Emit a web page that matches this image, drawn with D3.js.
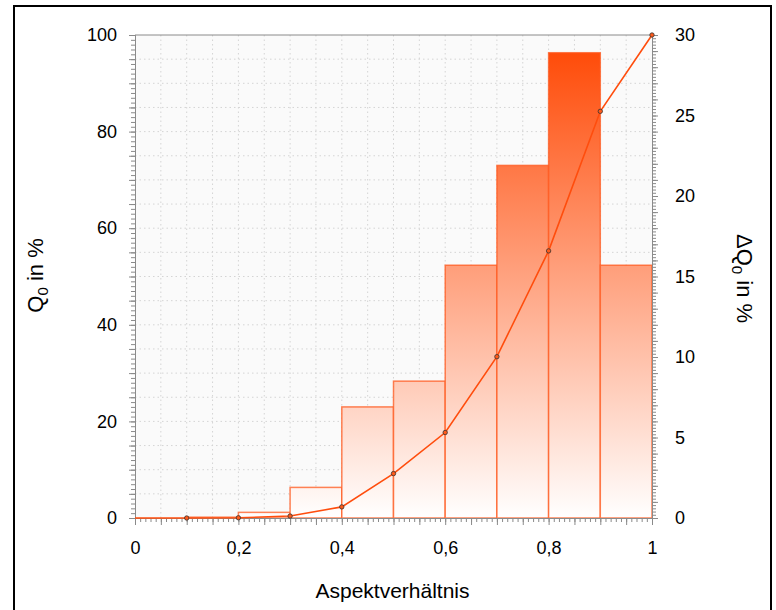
<!DOCTYPE html>
<html>
<head>
<meta charset="utf-8">
<script src="https://cdn.jsdelivr.net/npm/d3@7"></script>
<style>
  body { margin: 0; background: #fff; }
  svg { display: block; font-family: "Liberation Sans", Arial, sans-serif; }
</style>
</head>
<body>
<div id="chart"></div>
<script>
// class edges (aspect ratio) and values
const classLower = [0, 0.1, 0.2, 0.3, 0.4, 0.5, 0.6, 0.7, 0.8, 0.9];
const deltaQ0 = [0, 0.05, 0.35, 1.9, 6.9, 8.5, 15.7, 21.9, 28.9, 15.7];
const edgesQ0 = [0, 0.1, 0.2, 0.3, 0.4, 0.5, 0.6, 0.7, 0.8, 0.9, 1];
const q0 = [0, 0, 0.05, 0.4, 2.3, 9.2, 17.7, 33.4, 55.3, 84.2, 100];
const xTicks = [0, 0.2, 0.4, 0.6, 0.8, 1];
const leftTicks = [0, 20, 40, 60, 80, 100];
const rightTicks = [0, 5, 10, 15, 20, 25, 30];

const W = 776, H = 610;
const margin = { top: 35, right: 124, bottom: 92, left: 135 };
const width = W - margin.left - margin.right;
const height = H - margin.top - margin.bottom;

const svgRoot = d3.select("#chart").append("svg")
  .attr("width", W).attr("height", H);

// outer frame
svgRoot.append("rect")
  .attr("x", 14).attr("y", 6)
  .attr("width", 757).attr("height", 620)
  .attr("fill", "none").attr("stroke", "#000").attr("stroke-width", 2);

const defs = svgRoot.append("defs");
const svg = svgRoot.append("g").attr("transform", `translate(${margin.left},${margin.top})`);

const x = d3.scaleLinear().domain([0, 1]).range([0, width]);
const yL = d3.scaleLinear().domain([0, 100]).range([height, 0]);
const yR = d3.scaleLinear().domain([0, 30]).range([height, 0]);

const grad = defs.append("linearGradient")
  .attr("id", "barGrad")
  .attr("gradientUnits", "userSpaceOnUse")
  .attr("x1", 0).attr("x2", 0)
  .attr("y1", yR(30)).attr("y2", yR(0));
grad.append("stop").attr("offset", 0).attr("stop-color", "#ff4500");
grad.append("stop").attr("offset", 1).attr("stop-color", "#ffffff");

// plot background
svg.append("rect")
  .attr("width", width).attr("height", height)
  .attr("fill", "#fafafa");

// grid
const fmt = d => String(d).replace(".", ",");
svg.append("g")
  .selectAll("line")
  .data(d3.range(1, 20).map(i => i * 0.05))
  .join("line")
  .attr("x1", d => x(d)).attr("x2", d => x(d))
  .attr("y1", 0).attr("y2", height)
  .attr("stroke", "#d4d4d4").attr("stroke-dasharray", "1.5,3");
svg.append("g")
  .selectAll("line")
  .data(d3.range(1, 20).map(i => i * 5))
  .join("line")
  .attr("y1", d => yL(d)).attr("y2", d => yL(d))
  .attr("x1", 0).attr("x2", width)
  .attr("stroke", "#d4d4d4").attr("stroke-dasharray", "1.5,3");

// bars
svg.append("g")
  .selectAll("rect")
  .data(deltaQ0)
  .join("rect")
  .attr("x", (d, i) => x(classLower[i]))
  .attr("y", d => yR(d))
  .attr("width", (d, i) => x(classLower[i] + 0.1) - x(classLower[i]))
  .attr("height", d => height - yR(d))
  .attr("fill", "url(#barGrad)")
  .attr("stroke", "#ff5a1f")
  .attr("stroke-opacity", 0.75)
  .attr("stroke-width", 1.5);

// axes
function styleAxis(g) {
  g.select(".domain").attr("stroke", "#8a8a8a");
  g.selectAll(".tick line").attr("stroke", "#8a8a8a");
}
function minorAxis(axisFn, scale, values, size) {
  return axisFn(scale).tickValues(values).tickSize(size).tickFormat("");
}
function labelText(sel) {
  sel.selectAll("text")
    .attr("font-size", 18)
    .attr("fill", "#000")
    .attr("font-family", "Liberation Sans, Arial");
}

// bottom
const gx = svg.append("g").attr("transform", `translate(0,${height})`);
gx.append("g").call(minorAxis(d3.axisBottom, x, d3.range(0, 101).map(i => i / 100), 4)).call(styleAxis);
gx.append("g").call(minorAxis(d3.axisBottom, x, d3.range(0, 21).map(i => i / 20), 7)).call(styleAxis);
gx.append("g")
  .call(d3.axisBottom(x).tickValues(xTicks).tickSize(0).tickPadding(23).tickFormat(fmt))
  .call(g => g.select(".domain").remove())
  .call(labelText);

// left
const gl = svg.append("g");
gl.append("g").call(minorAxis(d3.axisLeft, yL, d3.range(0, 101), 4)).call(styleAxis);
gl.append("g").call(minorAxis(d3.axisLeft, yL, d3.range(0, 21).map(i => i * 5), 6)).call(styleAxis);
gl.append("g")
  .call(d3.axisLeft(yL).tickValues(leftTicks).tickSize(0).tickPadding(18))
  .call(g => g.select(".domain").remove())
  .call(labelText);

// right
const gr = svg.append("g").attr("transform", `translate(${width},0)`);
gr.append("g").call(minorAxis(d3.axisRight, yR, d3.range(0, 151).map(i => i / 5), 4)).call(styleAxis);
gr.append("g").call(minorAxis(d3.axisRight, yR, d3.range(0, 31), 6)).call(styleAxis);
gr.append("g")
  .call(d3.axisRight(yR).tickValues(rightTicks).tickSize(0).tickPadding(23))
  .call(g => g.select(".domain").remove())
  .call(labelText);

// top border
svg.append("line")
  .attr("x1", 0).attr("x2", width).attr("y1", 0).attr("y2", 0)
  .attr("stroke", "#8a8a8a");

// cumulative line
const line = d3.line().x((d, i) => x(edgesQ0[i])).y(d => yL(d));
svg.append("path")
  .datum(q0)
  .attr("d", line)
  .attr("fill", "none")
  .attr("stroke", "#ff4d0d")
  .attr("stroke-width", 1.6);

svg.append("g")
  .selectAll("circle")
  .data(q0.slice(1))
  .join("circle")
  .attr("cx", (d, i) => x(edgesQ0[i + 1]))
  .attr("cy", d => yL(d))
  .attr("r", 2.2)
  .attr("fill", "#ff5a1a")
  .attr("stroke", "#333")
  .attr("stroke-width", 0.8);

// axis titles
svgRoot.append("text")
  .attr("x", margin.left + width / 2 - 1)
  .attr("y", 598)
  .attr("text-anchor", "middle")
  .attr("font-size", 21)
  .text("Aspektverhältnis");

const tl = svgRoot.append("text")
  .attr("transform", `translate(43,${margin.top + height / 2 - 1}) rotate(-90)`)
  .attr("text-anchor", "middle")
  .attr("font-size", 22);
tl.append("tspan").text("Q");
tl.append("tspan").attr("font-size", 15).attr("dy", 5).text("0");
tl.append("tspan").attr("dy", -5).text(" in %");

const tr = svgRoot.append("text")
  .attr("transform", `translate(737,${margin.top + height / 2 + 2}) rotate(90)`)
  .attr("text-anchor", "middle")
  .attr("font-size", 22);
tr.append("tspan").text("ΔQ");
tr.append("tspan").attr("font-size", 15).attr("dy", 5).text("0");
tr.append("tspan").attr("dy", -5).text(" in %");
</script>
</body>
</html>
